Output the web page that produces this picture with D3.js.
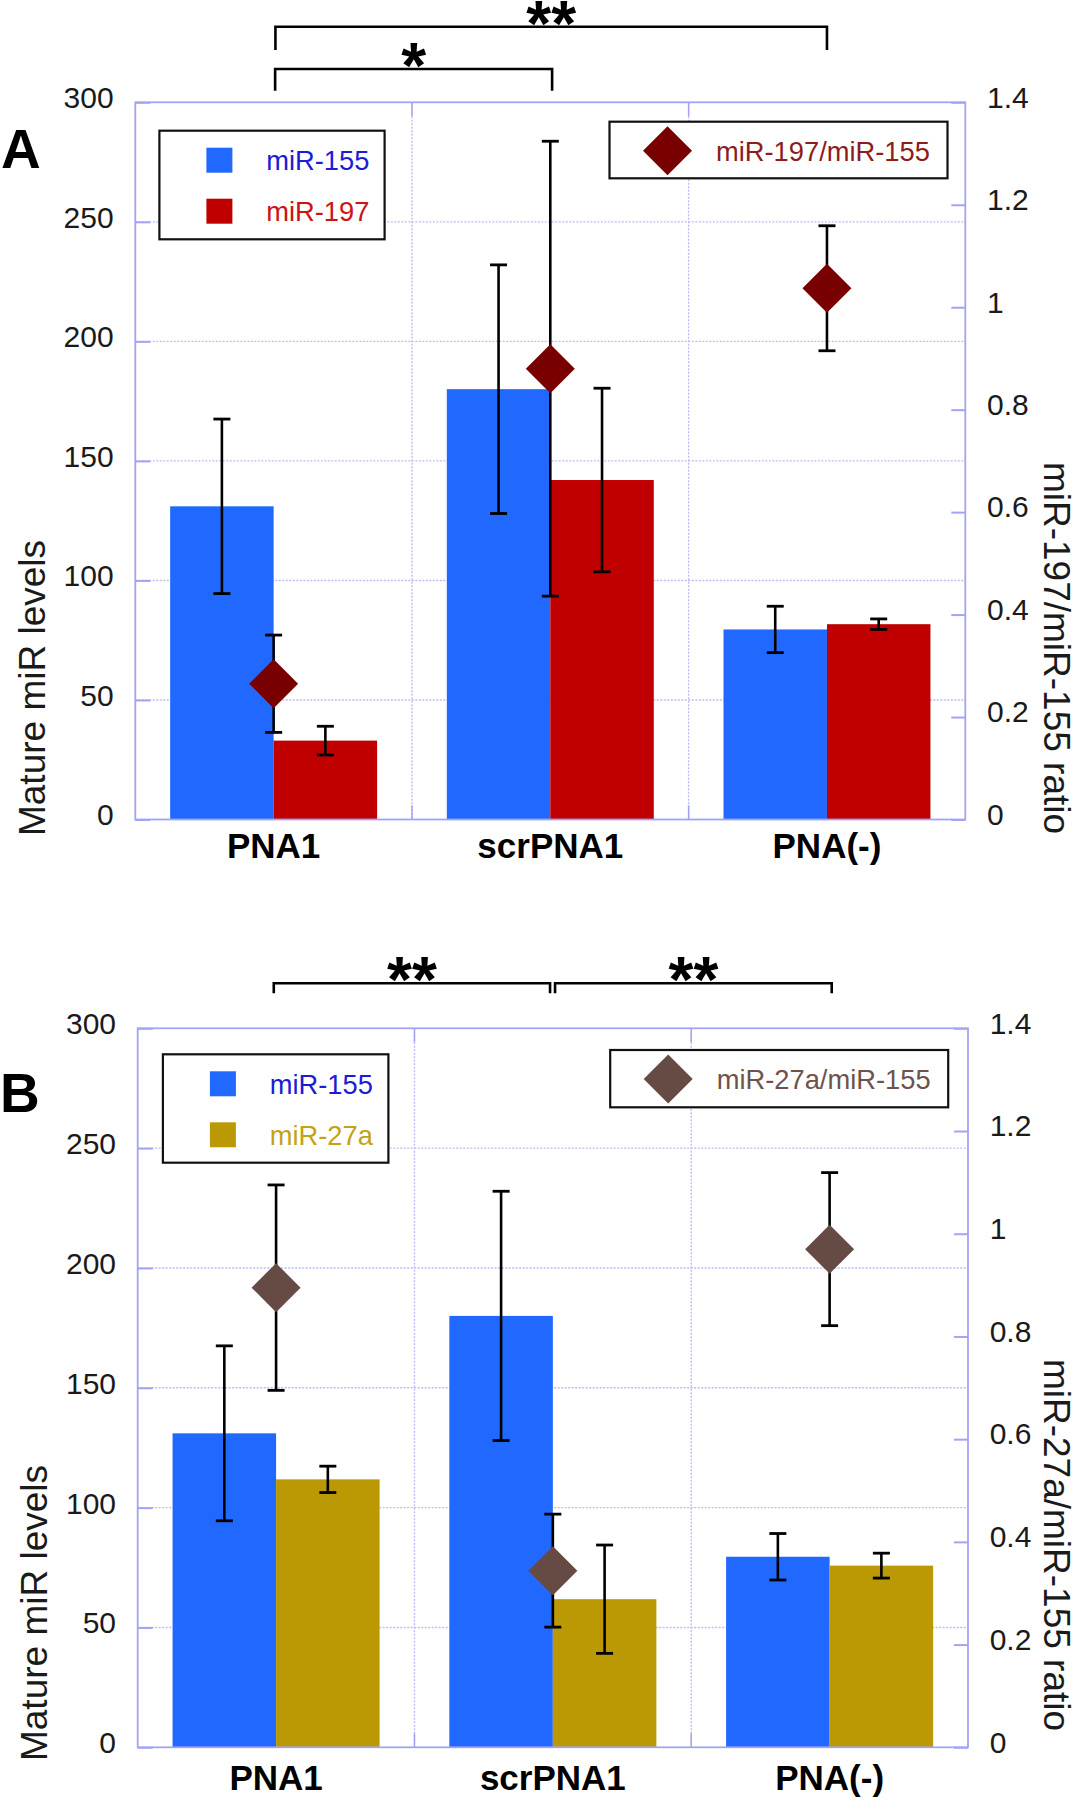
<!DOCTYPE html>
<html><head><meta charset="utf-8">
<script src="https://cdn.jsdelivr.net/npm/d3@7"></script>
<style>
body{margin:0;background:#fff}
svg{display:block}
text{font-family:"Liberation Sans",Arial,sans-serif}
</style>
</head><body>
<svg id="chart" width="1077" height="1800"></svg>
<script>
// ---------- data ----------
const categories = ["PNA1", "scrPNA1", "PNA(-)"];
const mir155 = [131, 180, 79.5];
const mir155Err = [36.5, 52, 9.7];
const mir197 = [33, 142, 81.7];
const mir197Err = [6, 38.4, 2.2];
const ratio197 = [0.265, 0.88, 1.037];
const ratio197Err = [0.095, 0.444, 0.122];
const mir27a = [111.8, 61.8, 75.8];
const mir27aErr = [5.5, 22.6, 5.2];
const ratio27a = [0.895, 0.344, 0.97];
const ratio27aErr = [0.2, 0.11, 0.149];
const leftTicks = [0, 50, 100, 150, 200, 250, 300];
const leftTickLabels = ["0", "50", "100", "150", "200", "250", "300"];
const rightTicks = [0, 0.2, 0.4, 0.6, 0.8, 1, 1.2, 1.4];
const rightTickLabels = ["0", "0.2", "0.4", "0.6", "0.8", "1", "1.2", "1.4"];
const yLabel = "Mature miR levels";
const namesA = ["miR-155", "miR-197", "miR-197/miR-155"];
const namesB = ["miR-155", "miR-27a", "miR-27a/miR-155"];
const y2LabelA = "miR-197/miR-155 ratio";
const y2LabelB = "miR-27a/miR-155 ratio";
const sigA = [[0, 2, "**"], [0, 1, "*"]];
const sigB = [[0, 1, "**"], [1, 2, "**"]];

// ---------- style ----------
const C = {
  blue: "#2168ff", red: "#c00000", gold: "#bb9905",
  dred: "#780000", brown: "#654b43",
  frame: "#a3a3f5", grid: "#bcbcf4",
  txtBlue: "#1c1cd6", txtRed: "#cc1414", txtGold: "#c4a215",
  txtDred: "#8e1c1c", txtBrown: "#6e534b"
};

const svg = d3.select("#chart");

function drawPanel(p) {
  const g = svg.append("g");
  const x = d3.scaleBand().domain(categories).range([p.x0, p.x1]);
  const bw = x.bandwidth();
  const xs = d3.scaleBand().domain([0, 1]).range([0.126 * bw, 0.874 * bw]);
  const y = d3.scaleLinear().domain([0, 300]).range([p.y1, p.y0]);
  const y2 = d3.scaleLinear().domain([0, 1.4]).range([p.y1, p.y0]);
  const cx = c => x(c) + bw / 2;

  // gridlines
  g.append("g").selectAll("line").data(leftTicks.slice(1, -1)).join("line")
    .attr("x1", p.x0).attr("x2", p.x1).attr("y1", d => y(d)).attr("y2", d => y(d))
    .attr("stroke", C.grid).attr("stroke-width", 1.4).attr("stroke-dasharray", "2,1.5");
  g.append("g").selectAll("line").data(categories.slice(1)).join("line")
    .attr("x1", d => x(d)).attr("x2", d => x(d)).attr("y1", p.y0).attr("y2", p.y1)
    .attr("stroke", C.grid).attr("stroke-width", 1.4).attr("stroke-dasharray", "2,1.5");
  g.append("g").selectAll("line").data(categories.slice(1)).join("line")
    .attr("x1", d => x(d)).attr("x2", d => x(d)).attr("y1", p.y1).attr("y2", p.y1 - 14)
    .attr("stroke", C.frame).attr("stroke-width", 1.5);
  g.append("g").selectAll("line").data(categories.slice(1)).join("line")
    .attr("x1", d => x(d)).attr("x2", d => x(d)).attr("y1", p.y0).attr("y2", p.y0 + 14)
    .attr("stroke", C.frame).attr("stroke-width", 1.5);

  // bars
  const series = [
    { vals: mir155, errs: mir155Err, color: C.blue },
    { vals: p.vals2, errs: p.errs2, color: p.color2 }
  ];
  series.forEach((s, k) => {
    g.append("g").selectAll("rect").data(categories).join("rect")
      .attr("x", c => x(c) + xs(k)).attr("width", xs.bandwidth())
      .attr("y", (c, i) => y(s.vals[i])).attr("height", (c, i) => y(0) - y(s.vals[i]))
      .attr("fill", s.color);
  });

  function errBar(gx, px, vTop, vBot, cap) {
    gx.append("line").attr("x1", px).attr("x2", px).attr("y1", vTop).attr("y2", vBot)
      .attr("stroke", "#000").attr("stroke-width", 2.6);
    [vTop, vBot].forEach(v => gx.append("line").attr("x1", px - cap / 2).attr("x2", px + cap / 2)
      .attr("y1", v).attr("y2", v).attr("stroke", "#000").attr("stroke-width", 2.8));
  }
  const eg = g.append("g");
  series.forEach((s, k) => {
    categories.forEach((c, i) => {
      const px = x(c) + xs(k) + xs.bandwidth() / 2;
      errBar(eg, px, y(s.vals[i] + s.errs[i]), y(s.vals[i] - s.errs[i]), 17);
    });
  });
  categories.forEach((c, i) => {
    errBar(eg, cx(c), y2(p.ratio[i] + p.ratioErr[i]), y2(p.ratio[i] - p.ratioErr[i]), 17);
  });
  const diamond = d3.symbol(d3.symbolSquare, 1200)();
  g.append("g").selectAll("path").data(categories).join("path")
    .attr("d", diamond)
    .attr("transform", (c, i) => `translate(${cx(c)},${y2(p.ratio[i])}) rotate(45)`)
    .attr("fill", p.dcolor);

  // frame
  g.append("rect").attr("x", p.x0).attr("y", p.y0).attr("width", p.x1 - p.x0).attr("height", p.y1 - p.y0)
    .attr("fill", "none").attr("stroke", C.frame).attr("stroke-width", 1.8);

  // axes
  const ax = g.append("g").attr("transform", `translate(${p.x0},0)`)
    .call(d3.axisLeft(y).tickValues(leftTicks).tickFormat((d, i) => leftTickLabels[i])
      .tickSizeInner(-15).tickSizeOuter(0).tickPadding(21.7));
  ax.select(".domain").remove();
  ax.selectAll(".tick line").attr("stroke", C.frame).attr("stroke-width", 2);
  ax.selectAll(".tick text").attr("font-size", 30).attr("fill", "#1a1a1a").attr("dy", "0.18em")
    .attr("font-family", "Liberation Sans, Arial, sans-serif");

  const ax2 = g.append("g").attr("transform", `translate(${p.x1},0)`)
    .call(d3.axisRight(y2).tickValues(rightTicks).tickFormat((d, i) => rightTickLabels[i])
      .tickSizeInner(-14).tickSizeOuter(0).tickPadding(21.7));
  ax2.select(".domain").remove();
  ax2.selectAll(".tick line").attr("stroke", C.frame).attr("stroke-width", 2);
  ax2.selectAll(".tick text").attr("font-size", 30).attr("fill", "#1a1a1a").attr("dy", "0.16em")
    .attr("font-family", "Liberation Sans, Arial, sans-serif");

  const axb = g.append("g").attr("transform", `translate(0,${p.y1})`)
    .call(d3.axisBottom(x).tickSize(0).tickPadding(p.catPad));
  axb.select(".domain").remove();
  axb.selectAll(".tick text").attr("font-size", 35).attr("font-weight", "bold").attr("fill", "#000")
    .attr("dy", 0).attr("font-family", "Liberation Sans, Arial, sans-serif");

  // axis titles
  g.append("text").attr("transform", `translate(${p.ylx},${p.yly}) rotate(-90)`)
    .attr("text-anchor", "middle").attr("font-size", 37).attr("fill", "#1a1a1a").text(yLabel);
  g.append("text").attr("transform", `translate(${p.y2lx},${p.y2ly}) rotate(90)`)
    .attr("text-anchor", "middle").attr("font-size", 37).attr("fill", "#1a1a1a").text(p.y2Label);

  // panel letter
  g.append("text").attr("x", p.letterX).attr("y", p.letterY).attr("font-size", 55)
    .attr("font-weight", "bold").attr("fill", "#000").text(p.letter);

  // legend 1
  const L = p.leg1;
  g.append("rect").attr("x", L.x).attr("y", L.y).attr("width", L.w).attr("height", L.h)
    .attr("fill", "#fff").attr("stroke", "#111").attr("stroke-width", 2.2);
  [[C.blue, C.txtBlue, p.names[0]], [p.color2, p.txt2, p.names[1]]].forEach((e, k) => {
    g.append("rect").attr("x", L.x + 47).attr("y", L.y + 17 + k * 51).attr("width", 26).attr("height", 25)
      .attr("fill", e[0]);
    g.append("text").attr("x", L.x + 210).attr("y", L.y + 39.5 + k * 51).attr("text-anchor", "end")
      .attr("font-size", 27.3).attr("fill", e[1]).text(e[2]);
  });
  // legend 2
  const M = p.leg2;
  g.append("rect").attr("x", M.x).attr("y", M.y).attr("width", M.w).attr("height", M.h)
    .attr("fill", "#fff").attr("stroke", "#111").attr("stroke-width", 2.2);
  g.append("path").attr("d", diamond).attr("transform", `translate(${M.x + 58},${M.y + 29}) rotate(45)`)
    .attr("fill", p.dcolor);
  g.append("text").attr("x", M.x + 106.5).attr("y", M.y + 39).attr("font-size", 27.3)
    .attr("fill", p.dtxt).text(p.names[2]);

  // significance brackets
  p.sig.forEach((s, k) => {
    const b = p.brackets[k];
    const xa = cx(categories[s[0]]) + b.dl, xb = cx(categories[s[1]]) + b.dr;
    g.append("path").attr("d", `M${xa},${b.drop}V${b.y}H${xb}V${b.drop}`)
      .attr("fill", "none").attr("stroke", "#000").attr("stroke-width", 2.6);
    g.append("text").attr("x", (xa + xb) / 2).attr("y", b.y + 19).attr("text-anchor", "middle")
      .attr("font-size", 64).attr("font-weight", "bold").attr("fill", "#000").text(s[2]);
  });
}

drawPanel({
  x0: 135.3, x1: 965.3, y0: 102.3, y1: 819.5,
  vals2: mir197, errs2: mir197Err, color2: C.red, txt2: C.txtRed,
  ratio: ratio197, ratioErr: ratio197Err, dcolor: C.dred, dtxt: C.txtDred,
  names: namesA, y2Label: y2LabelA, catPad: 38.8,
  ylx: 44.8, yly: 688, y2lx: 1044, y2ly: 648,
  letter: "A", letterX: 1, letterY: 168.3,
  leg1: { x: 159.4, y: 130.7, w: 225.2, h: 108.6 },
  leg2: { x: 609.5, y: 121.7, w: 338, h: 56.6 },
  sig: sigA,
  brackets: [{ y: 26.7, drop: 50, dl: 1.8, dr: 0 }, { y: 69, drop: 90.7, dl: 1.5, dr: 1.8 }]
});

drawPanel({
  x0: 137.7, x1: 968, y0: 1028.3, y1: 1747.3,
  vals2: mir27a, errs2: mir27aErr, color2: C.gold, txt2: C.txtGold,
  ratio: ratio27a, ratioErr: ratio27aErr, dcolor: C.brown, dtxt: C.txtBrown,
  names: namesB, y2Label: y2LabelB, catPad: 42.7,
  ylx: 46.5, yly: 1613, y2lx: 1044, y2ly: 1545,
  letter: "B", letterX: 0, letterY: 1111.7,
  leg1: { x: 162.9, y: 1054.3, w: 225.5, h: 108.4 },
  leg2: { x: 610.2, y: 1050, w: 338, h: 57.3 },
  sig: sigB,
  brackets: [{ y: 983.3, drop: 993.3, dl: -2.3, dr: -2.8 }, { y: 983.3, drop: 993.3, dl: 2.2, dr: 2.1 }]
});
</script>
</body></html>
